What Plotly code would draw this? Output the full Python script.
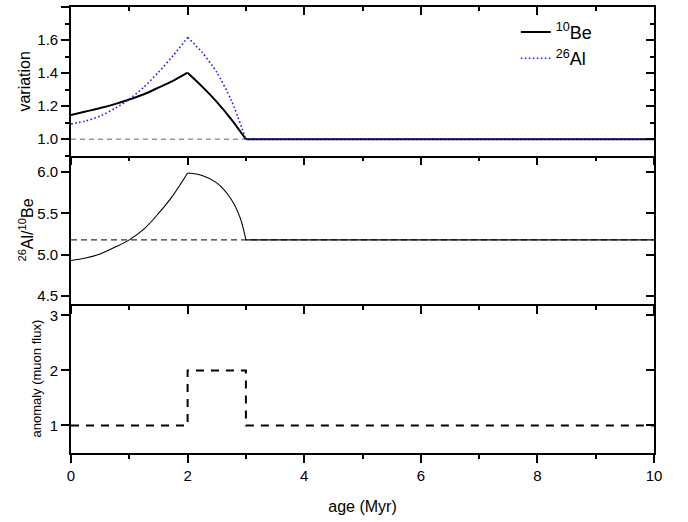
import plotly.graph_objects as go

# ---- data ----
age = [0, 0.25, 0.5, 0.75, 1.0, 1.25, 1.5, 1.75, 2.0, 2.25, 2.5, 2.75, 3.0, 10.0]
be10 = [1.146, 1.167, 1.188, 1.212, 1.240, 1.272, 1.312, 1.353, 1.402, 1.318, 1.226, 1.120, 1.000, 1.000]
al26 = [1.092, 1.110, 1.140, 1.185, 1.242, 1.315, 1.405, 1.505, 1.616, 1.525, 1.405, 1.235, 1.000, 1.000]

age_ratio = [0, 0.25, 0.5, 0.75, 1.0, 1.25, 1.5, 1.75, 2.0, 2.25, 2.5, 2.75, 2.9, 3.0, 10.0]
ratio = [4.93, 4.96, 5.01, 5.09, 5.18, 5.31, 5.50, 5.72, 5.99, 5.96, 5.87, 5.67, 5.45, 5.18, 5.18]

age_muon = [0, 2, 2, 3, 3, 10]
muon = [1, 1, 2, 2, 1, 1]

base_x = [0, 10]
base_var = [1.0, 1.0]
base_ratio = [5.18, 5.18]

x_range = [0, 10]
y1_range = [0.9, 1.8]
y2_range = [4.4, 6.2]
y3_range = [0.5, 3.2]

FONT = "Liberation Sans, Arial, sans-serif"


def pieces(xs, ys, breaks):
    """split a series at the kink positions (x values) so each smooth part is drawn alone"""
    out = []
    idx = [0] + [xs.index(b) for b in breaks] + [len(xs) - 1]
    for a, b in zip(idx[:-1], idx[1:]):
        out.append((xs[a:b + 1], ys[a:b + 1]))
    return out


fig = go.Figure()

# top panel
fig.add_trace(go.Scatter(x=base_x, y=base_var, mode="lines", xaxis="x", yaxis="y",
                         line=dict(color="#666666", width=1, dash="5px,4px"),
                         showlegend=False, hoverinfo="skip"))
for i, (xs, ys) in enumerate(pieces(age, be10, [2.0, 3.0])):
    fig.add_trace(go.Scatter(x=xs, y=ys, mode="lines", xaxis="x", yaxis="y",
                             name="<sup>10</sup>Be", legendgroup="be", legendrank=1,
                             showlegend=(i == 0),
                             line=dict(color="black", width=2, shape="spline",
                                       smoothing=0.7)))
for i, (xs, ys) in enumerate(pieces(age, al26, [2.0, 3.0])):
    fig.add_trace(go.Scatter(x=xs, y=ys, mode="lines", xaxis="x", yaxis="y",
                             name="<sup>26</sup>Al", legendgroup="al", legendrank=2,
                             showlegend=(i == 0),
                             line=dict(color="#1a1aff", width=1.6, dash="1.6px,2.4px",
                                       shape="spline", smoothing=0.7)))

# middle panel
fig.add_trace(go.Scatter(x=base_x, y=base_ratio, mode="lines", xaxis="x2", yaxis="y2",
                         line=dict(color="#333333", width=1.2, dash="6px,4px"),
                         showlegend=False, hoverinfo="skip"))
for xs, ys in pieces(age_ratio, ratio, [2.0, 3.0]):
    fig.add_trace(go.Scatter(x=xs, y=ys, mode="lines", xaxis="x2", yaxis="y2",
                             line=dict(color="black", width=1.1, shape="spline"),
                             showlegend=False))

# bottom panel
fig.add_trace(go.Scatter(x=age_muon, y=muon, mode="lines", xaxis="x3", yaxis="y3",
                         line=dict(color="black", width=2, dash="8px,7px"),
                         showlegend=False))

# dummy traces so the mirrored axes exist
for xa, ya in [("x4", "y"), ("x", "y4"), ("x2", "y5"), ("x3", "y6")]:
    fig.add_trace(go.Scatter(x=[None], y=[None], xaxis=xa, yaxis=ya, mode="lines",
                             showlegend=False, hoverinfo="skip"))

LW = 1.6
xcommon = dict(range=x_range, showgrid=False, zeroline=False, showline=True,
               linecolor="black", linewidth=LW, ticks="outside", ticklen=8,
               tickwidth=1.5, tickcolor="black", tickvals=[0, 2, 4, 6, 8, 10],
               minor=dict(dtick=1, ticks="outside", ticklen=4, tickwidth=1.5,
                          tickcolor="black", showgrid=False))

fig.update_layout(
    width=688, height=522,
    margin=dict(l=71, r=34, t=7, b=69),
    plot_bgcolor="white", paper_bgcolor="white",
    font=dict(family=FONT, size=15, color="black"),
    showlegend=True,
    legend=dict(x=0.763, y=0.985, xanchor="left", yanchor="top",
                bgcolor="rgba(0,0,0,0)", font=dict(family=FONT, size=18),
                tracegroupgap=0),
    xaxis=dict(**xcommon, anchor="y", domain=[0, 1], showticklabels=False),
    xaxis2=dict(**xcommon, anchor="y2", domain=[0, 1], showticklabels=False),
    xaxis3=dict(**xcommon, anchor="y3", domain=[0, 1], showticklabels=True,
                tickfont=dict(family=FONT, size=15),
                title=dict(text="age (Myr)", font=dict(family=FONT, size=16),
                           standoff=18)),
    xaxis4=dict(range=x_range, overlaying="x", side="top", anchor="y",
                showgrid=False, zeroline=False, showline=True, linecolor="black",
                linewidth=LW, ticks="inside", ticklen=8, tickwidth=1.5,
                tickcolor="black", tickvals=[0, 2, 4, 6, 8, 10], showticklabels=False,
                minor=dict(dtick=1, ticks="inside", ticklen=4, tickwidth=1.5,
                           tickcolor="black", showgrid=False)),
    yaxis=dict(domain=[2 / 3, 1], range=y1_range, anchor="x", showgrid=False,
               zeroline=False, showline=True, linecolor="black", linewidth=LW,
               ticks="outside", ticklen=8, tickwidth=1.5, tickcolor="black",
               tickvals=[1.0, 1.2, 1.4, 1.6, 1.8], tickformat=".1f",
               minor=dict(dtick=0.1, tick0=0.9, ticks="outside", ticklen=4,
                          tickwidth=1.5, tickcolor="black", showgrid=False),
               title=dict(text="variation", font=dict(size=16), standoff=3)),
    yaxis2=dict(domain=[1 / 3, 2 / 3], range=y2_range, anchor="x2", showgrid=False,
                zeroline=False, showline=True, linecolor="black", linewidth=LW,
                ticks="outside", ticklen=8, tickwidth=1.5, tickcolor="black",
                tickvals=[4.5, 5.0, 5.5, 6.0], tickformat=".1f",
                title=dict(text="<sup>26</sup>Al/<sup>10</sup>Be", font=dict(size=16),
                           standoff=0)),
    yaxis3=dict(domain=[0, 1 / 3], range=y3_range, anchor="x3", showgrid=False,
                zeroline=False, showline=True, linecolor="black", linewidth=LW,
                ticks="outside", ticklen=8, tickwidth=1.5, tickcolor="black",
                tickvals=[1, 2, 3],
                title=dict(text="anomaly (muon flux)", font=dict(family=FONT, size=13),
                           standoff=5)),
    yaxis4=dict(range=y1_range, overlaying="y", side="right", anchor="x",
                showgrid=False, zeroline=False, showline=True, linecolor="black",
                linewidth=LW, ticks="inside", ticklen=8, tickwidth=1.5,
                tickcolor="black", tickvals=[1.0, 1.2, 1.4, 1.6, 1.8],
                showticklabels=False,
                minor=dict(dtick=0.1, tick0=0.9, ticks="inside", ticklen=4,
                           tickwidth=1.5, tickcolor="black", showgrid=False)),
    yaxis5=dict(range=y2_range, overlaying="y2", side="right", anchor="x2",
                showgrid=False, zeroline=False, showline=True, linecolor="black",
                linewidth=LW, ticks="inside", ticklen=8, tickwidth=1.5,
                tickcolor="black", tickvals=[4.5, 5.0, 5.5, 6.0], showticklabels=False),
    yaxis6=dict(range=y3_range, overlaying="y3", side="right", anchor="x3",
                showgrid=False, zeroline=False, showline=True, linecolor="black",
                linewidth=LW, ticks="inside", ticklen=8, tickwidth=1.5,
                tickcolor="black", tickvals=[1, 2, 3], showticklabels=False),
)

fig.write_html("out.html")
